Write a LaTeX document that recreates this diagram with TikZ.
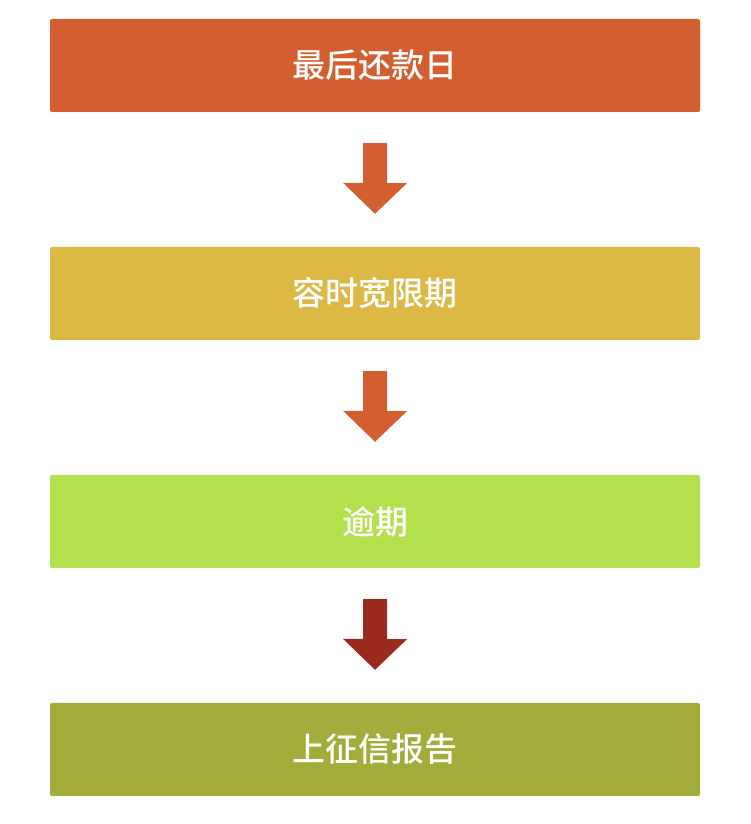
\documentclass[tikz,border=0pt]{standalone}
\usepackage{fontspec}
\usepackage{tikz}
\usetikzlibrary{positioning,calc}
\newfontfamily\cjk{Noto Sans CJK SC}[BoldFont={Noto Sans CJK SC Medium}]
\definecolor{deadlinecol}{RGB}{211, 95, 48}
\definecolor{gracecol}{RGB}{219, 185, 68}
\definecolor{overduecol}{RGB}{179, 225, 77}
\definecolor{reportcol}{RGB}{163, 171, 58}
\definecolor{darkarrow}{RGB}{155, 42, 30}
\tikzset{
  stagebox/.style={rounded corners=2pt, minimum width=650pt, minimum height=93pt,
    inner sep=0pt, text=white, font=\cjk\bfseries\fontsize{33}{38}\selectfont}
}

\begin{document}
\begin{tikzpicture}[x=1pt, y=1pt]
      \useasboundingbox (0,0) rectangle (750,824);

      \node[stagebox, fill=deadlinecol] (deadline) at (375,758.5) {最后还款日};
      \node[stagebox, fill=gracecol] (grace) at (375,530.5) {容时宽限期};
      \node[stagebox, fill=overduecol] (overdue) at (375,302.5) {逾期};
      \node[stagebox, fill=reportcol] (report) at (375,74.5) {上征信报告};

      % block arrows between the stages
      \fill[deadlinecol] ($(deadline.south)+(-12,-31)$) -- ++(24,0) -- ++(0,-40) -- ++(20,0)
        -- ($(grace.north)+(0,33)$) -- ++(-32,31) -- ++(20,0) -- cycle;

      \fill[deadlinecol] ($(grace.south)+(-12,-31)$) -- ++(24,0) -- ++(0,-40) -- ++(20,0)
        -- ($(overdue.north)+(0,33)$) -- ++(-32,31) -- ++(20,0) -- cycle;

      \fill[darkarrow] ($(overdue.south)+(-12,-31)$) -- ++(24,0) -- ++(0,-40) -- ++(20,0)
        -- ($(report.north)+(0,33)$) -- ++(-32,31) -- ++(20,0) -- cycle;
    \end{tikzpicture}
\end{document}
